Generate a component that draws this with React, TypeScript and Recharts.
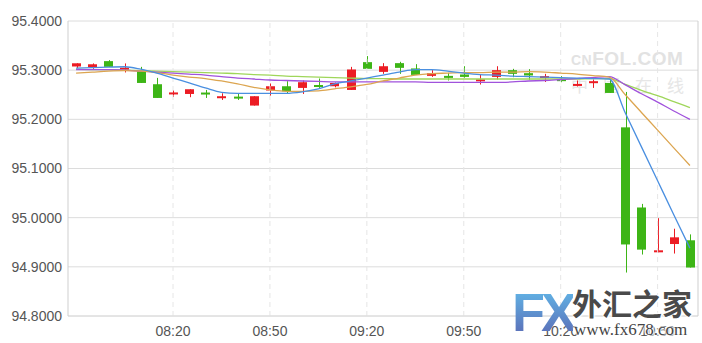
import React from 'react';
import {
  ComposedChart,
  Bar,
  Line,
  XAxis,
  YAxis,
  CartesianGrid,
  ReferenceLine,
} from 'recharts';

const TIMES = [
  '07:50', '07:55', '08:00', '08:05', '08:10', '08:15', '08:20', '08:25', '08:30', '08:35',
  '08:40', '08:45', '08:50', '08:55', '09:00', '09:05', '09:10', '09:15', '09:20', '09:25',
  '09:30', '09:35', '09:40', '09:45', '09:50', '09:55', '10:00', '10:05', '10:10', '10:15',
  '10:20', '10:25', '10:30', '10:35', '10:40', '10:45', '10:50', '10:55', '11:00',
];

const OPEN = [
  95.3075, 95.306, 95.3184, 95.3045, 95.298, 95.2714, 95.2533, 95.2516, 95.2545, 95.2435,
  95.2462, 95.228, 95.2586, 95.2673, 95.2639, 95.2698, 95.2673, 95.2598, 95.3163, 95.2965,
  95.3143, 95.3035, 95.2884, 95.2884, 95.2912, 95.281, 95.2863, 95.3, 95.2939, 95.2875,
  95.2817, 95.268, 95.2741, 95.274, 95.1837, 95.0207, 94.9296, 94.9464, 94.954,
];
const CLOSE = [
  95.314, 95.312, 95.3067, 95.305, 95.274, 95.2435, 95.2547, 95.2612, 95.2535, 95.247,
  95.2448, 95.247, 95.2673, 95.257, 95.2755, 95.269, 95.274, 95.3014, 95.3027, 95.308,
  95.3047, 95.2904, 95.2939, 95.2843, 95.2863, 95.2814, 95.3, 95.2925, 95.2892, 95.2879,
  95.2812, 95.272, 95.2776, 95.2537, 94.9455, 94.935, 94.9336, 94.96, 94.8986,
];
const HIGH = [
  95.314, 95.3137, 95.3204, 95.3137, 95.3067, 95.2843, 95.259, 95.2612, 95.2598, 95.253,
  95.2516, 95.247, 95.2729, 95.2776, 95.279, 95.283, 95.275, 95.3067, 95.3286, 95.3143,
  95.317, 95.3122, 95.3, 95.2945, 95.308, 95.2912, 95.308, 95.3027, 95.302, 95.2925,
  95.2878, 95.279, 95.281, 95.281, 95.2557, 95.028, 94.999, 94.9775, 94.966,
];
const LOW = [
  95.304, 95.3027, 95.3067, 95.2953, 95.274, 95.2435, 95.2455, 95.245, 95.2435, 95.2394,
  95.2394, 95.228, 95.2476, 95.2524, 95.2516, 95.2639, 95.265, 95.2598, 95.3027, 95.2925,
  95.2925, 95.2904, 95.2863, 95.279, 95.2843, 95.2708, 95.281, 95.2857, 95.2802, 95.276,
  95.2755, 95.2667, 95.2639, 95.2537, 94.8884, 94.925, 94.9296, 94.927, 94.8986,
];

const MA_BLUE = [
  95.304, 95.305, 95.306, 95.307, 95.302, 95.294, 95.284, 95.274, 95.264, 95.255,
  95.253, 95.253, 95.253, 95.253, 95.256, 95.262, 95.272, 95.278, 95.284, 95.29,
  95.296, 95.301, 95.301, 95.298, 95.294, 95.291, 95.29, 95.288, 95.287, 95.286,
  95.285, 95.284, 95.283, 95.282, 95.213, 95.144, 95.075, 95.006, 94.938,
];
const MA_ORANGE = [
  95.294, 95.296, 95.298, 95.299, 95.298, 95.295, 95.29, 95.286, 95.283, 95.278,
  95.272, 95.265, 95.26, 95.257, 95.257, 95.258, 95.262, 95.266, 95.271, 95.278,
  95.284, 95.29, 95.293, 95.294, 95.295, 95.295, 95.296, 95.296, 95.297, 95.296,
  95.294, 95.292, 95.289, 95.286, 95.25, 95.214, 95.178, 95.142, 95.106,
];
const MA_PURPLE = [
  95.301, 95.301, 95.301, 95.3, 95.298, 95.296, 95.294, 95.292, 95.29, 95.287,
  95.284, 95.282, 95.28, 95.279, 95.278, 95.277, 95.276, 95.276, 95.276, 95.276,
  95.276, 95.276, 95.275, 95.275, 95.275, 95.275, 95.275, 95.276, 95.278, 95.279,
  95.281, 95.283, 95.285, 95.287, 95.27, 95.252, 95.235, 95.217, 95.2,
];
const MA_GREEN = [
  95.302, 95.301, 95.301, 95.3, 95.299, 95.298, 95.297, 95.296, 95.295, 95.294,
  95.293, 95.291, 95.29, 95.288, 95.287, 95.286, 95.285, 95.284, 95.283, 95.283,
  95.282, 95.282, 95.282, 95.282, 95.282, 95.282, 95.282, 95.282, 95.282, 95.282,
  95.282, 95.282, 95.283, 95.283, 95.271, 95.259, 95.248, 95.236, 95.224,
];

const X_TICKS = ['08:20', '08:50', '09:20', '09:50', '10:20', '10:50'];
const Y_TICKS = [94.8, 94.9, 95.0, 95.1, 95.2, 95.3, 95.4];

const RED = '#ec1c24';
const GREEN = '#3db516';
const FONT = '"Liberation Sans", Arial, sans-serif';
const HALO = '0 0 2px #fff, 0 0 3px #fff, 1px 1px 2px #fff, -1px -1px 2px #fff';

const data = TIMES.map((time, i) => ({
  time,
  open: OPEN[i],
  close: CLOSE[i],
  high: HIGH[i],
  low: LOW[i],
  range: [LOW[i], HIGH[i]],
  ma1: MA_BLUE[i],
  ma2: MA_ORANGE[i],
  ma3: MA_PURPLE[i],
  ma4: MA_GREEN[i],
}));

const Candle = (props: any) => {
  const { x, y, width, height, payload } = props;
  if (!payload) return null;
  const { open, close, high, low } = payload;
  const top = height >= 0 ? y : y + height;
  const h = Math.abs(height);
  const k = high > low ? h / (high - low) : 0;
  const color = close >= open ? RED : GREEN;
  const bodyTop = top + (high - Math.max(open, close)) * k;
  const bodyH = Math.max(Math.abs(open - close) * k, 2);
  const cx = Math.round(x + width / 2) + 0.5;
  return (
    <g>
      <line x1={cx} x2={cx} y1={top} y2={top + h} stroke={color} strokeWidth={1} />
      <rect x={Math.round(x)} y={bodyTop} width={width} height={bodyH} fill={color} />
    </g>
  );
};

export default function App() {
  return (
    <div style={{ position: 'absolute', left: 0, top: 0, width: 702, height: 343, background: '#fff', fontFamily: FONT }}>
      {/* cnfol watermark */}
      <div style={{ position: 'absolute', left: 571, top: 48, color: '#e2e2e2', fontWeight: 'bold', fontSize: 19, letterSpacing: 0.5, whiteSpace: 'nowrap' }}>
        <span style={{ fontSize: 14 }}>CN</span>FOL.COM
      </div>
      <div style={{ position: 'absolute', left: 571, top: 72, color: '#e6e6e6', fontSize: 17, letterSpacing: 15, whiteSpace: 'nowrap', fontFamily: '"Noto Sans CJK SC", sans-serif' }}>
        中国在线
      </div>
      <div style={{ position: 'absolute', left: 0, top: 0 }}>
        <ComposedChart width={702} height={343} data={data} margin={{ top: 21, right: 0, bottom: 0, left: 0 }}>
          <CartesianGrid vertical={false} stroke="#dcdcdc" />
          {X_TICKS.map((t) => (
            <ReferenceLine key={t} x={t} stroke="#e6e6e6" strokeDasharray="5 4" />
          ))}
          <XAxis
            dataKey="time"
            ticks={X_TICKS}
            interval={0}
            height={27}
            tickLine={false}
            tickSize={0}
            tickMargin={10}
            axisLine={{ stroke: '#dcdcdc' }}
            tick={{ fontSize: 14, fill: '#555', fontFamily: FONT }}
          />
          <YAxis
            domain={[94.8, 95.4]}
            ticks={Y_TICKS}
            width={68}
            tickLine={false}
            tickSize={0}
            tickMargin={6}
            axisLine={{ stroke: '#cfcfcf' }}
            tick={{ fontSize: 14, fill: '#555', fontFamily: FONT }}
            tickFormatter={(v: number) => v.toFixed(4)}
            allowDataOverflow
          />
          <YAxis yAxisId="right" orientation="right" width={4} tick={false} tickLine={false} axisLine={{ stroke: '#cfcfcf' }} />
          <Bar dataKey="range" barSize={9} shape={<Candle />} isAnimationActive={false} />
          <Line type="monotone" dataKey="ma4" stroke="#9fd65a" strokeWidth={1.3} dot={false} activeDot={false} isAnimationActive={false} />
          <Line type="monotone" dataKey="ma3" stroke="#a052dc" strokeWidth={1.3} dot={false} activeDot={false} isAnimationActive={false} />
          <Line type="monotone" dataKey="ma2" stroke="#dca550" strokeWidth={1.3} dot={false} activeDot={false} isAnimationActive={false} />
          <Line type="monotone" dataKey="ma1" stroke="#4a8fe0" strokeWidth={1.3} dot={false} activeDot={false} isAnimationActive={false} />
        </ComposedChart>
      </div>
      {/* fx678 logo */}
      <div style={{ position: 'absolute', left: 508, top: 282, width: 194, height: 61, pointerEvents: 'none' }}>
        <div style={{
          position: 'absolute', left: 4, top: 0, fontSize: 54, fontWeight: 'bold', lineHeight: '60px',
          fontFamily: '"Liberation Sans", Arial, sans-serif', letterSpacing: -4,
          background: 'linear-gradient(#62c0ee, #5a64b0)', WebkitBackgroundClip: 'text', color: 'transparent',
        }}>FX</div>
        <div style={{ position: 'absolute', left: 64, top: 3, fontSize: 30, fontWeight: 'bold', color: '#4a4a4a', lineHeight: '34px', fontFamily: '"Noto Sans CJK SC", sans-serif', whiteSpace: 'nowrap', textShadow: HALO }}>
          外汇之家
        </div>
        <div style={{ position: 'absolute', left: 66, top: 38, fontSize: 17, color: '#444', lineHeight: '20px', fontFamily: '"Liberation Serif", serif', whiteSpace: 'nowrap', textShadow: HALO }}>
          www.fx678.com
        </div>
      </div>
    </div>
  );
}
